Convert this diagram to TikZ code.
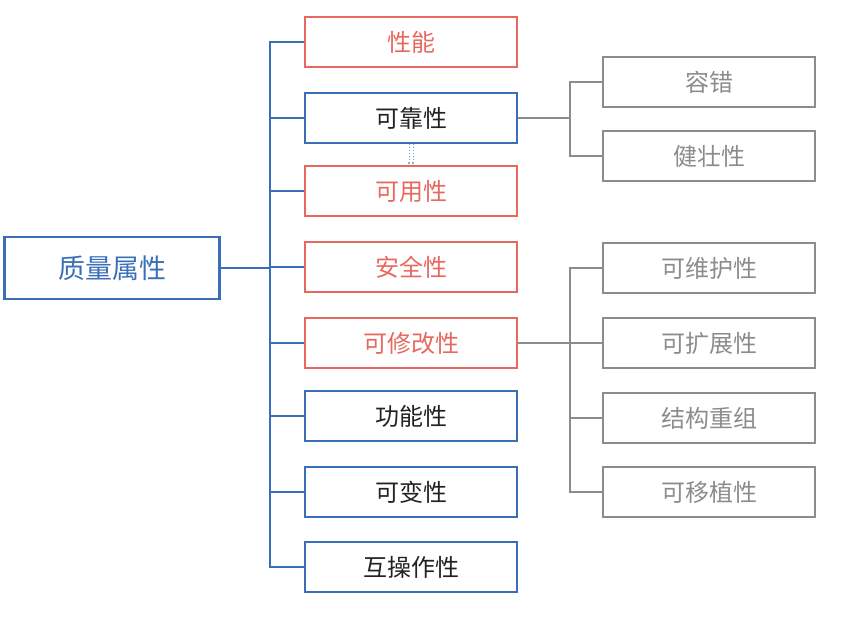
\documentclass[tikz,border=0pt]{standalone}
\usepackage{fontspec}
\setmainfont{Noto Sans CJK SC}
\usetikzlibrary{arrows.meta}
\definecolor{bl}{HTML}{3A6FB8}
\definecolor{rd}{HTML}{E8675F}
\definecolor{gy}{HTML}{8C8C8C}
\definecolor{tx}{HTML}{222222}
\begin{document}
\begin{tikzpicture}[x=1pt,y=-1pt,
 box/.style={draw,line width=2.2pt,minimum width=212pt,minimum height=50pt,inner sep=0pt,font=\fontsize{24}{26}\selectfont},
 bb/.style={box,draw=bl,text=tx},
 rb/.style={box,draw=rd,text=rd},
 gb/.style={box,draw=gy,text=gy,line width=1.8pt},
 bln/.style={bl,line width=2pt},
 gln/.style={gy,line width=1.5pt}]
\useasboundingbox (0,0) rectangle (843,620);
\node[box,draw=bl,text=bl,minimum width=215pt,minimum height=62pt,font=\fontsize{27}{29}\selectfont] (root) at (112,268) {质量属性};
\node[rb] (m1) at (411,42) {性能};
\node[bb] (m2) at (411,118) {可靠性};
\node[rb] (m3) at (411,191) {可用性};
\node[rb] (m4) at (411,267) {安全性};
\node[rb] (m5) at (411,343) {可修改性};
\node[bb] (m6) at (411,416) {功能性};
\node[bb] (m7) at (411,492) {可变性};
\node[bb] (m8) at (411,567) {互操作性};
\node[gb] (r1) at (709,82) {容错};
\node[gb] (r2) at (709,156) {健壮性};
\node[gb] (r3) at (709,268) {可维护性};
\node[gb] (r4) at (709,343) {可扩展性};
\node[gb] (r5) at (709,418) {结构重组};
\node[gb] (r6) at (709,492) {可移植性};
\coordinate (t) at (270,268);
\draw[bln] (root.east) -- (t);
\draw[bln] (m1.west) -| (270,567) -- (m8.west);
\foreach \m in {m2,m3,m4,m5,m6,m7} \draw[bln] (\m.west) -- (270,0 |- \m.west);
\coordinate (g1) at (570,118);
\draw[gln] (m2.east) -- (g1);
\draw[gln] (r1.west) -| (570,156) -- (r2.west);
\coordinate (g2) at (570,343);
\draw[gln] (m5.east) -- (g2);
\draw[gln] (r3.west) -| (570,492) -- (r6.west);
\foreach \r in {r4,r5} \draw[gln] (\r.west) -- (570,0 |- \r.west);
\draw[bl!70,dotted,line width=1pt,-{Stealth[length=3pt]}] ([xshift=-2pt]m2.south) -- ([xshift=-2pt]m3.north);
\draw[bl!70,dotted,line width=1pt,-{Stealth[length=3pt]}] ([xshift=2pt]m2.south) -- ([xshift=2pt]m3.north);
\end{tikzpicture}
\end{document}
